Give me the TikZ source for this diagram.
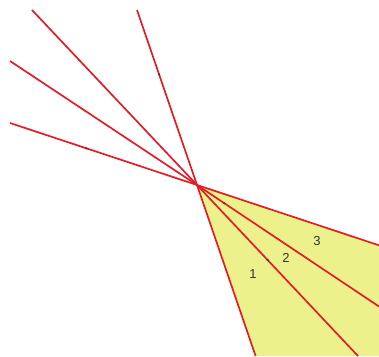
\documentclass[tikz,border=0pt]{standalone}
\usetikzlibrary{decorations.markings,arrows.meta}
\usepackage{fontspec}
\setmainfont{Liberation Sans}
\definecolor{fillyel}{RGB}{236,241,140}
\definecolor{raycol}{RGB}{225,30,40}
\tikzset{
  ray/.style={draw=raycol,line width=1.7pt},
  markat/.style={postaction={decorate},decoration={markings,mark=at position #1 with {\arrow[black!75]{Latex[length=3pt,width=2.5pt]}}}},
  lbl/.style={font=\fontsize{13pt}{14pt}\selectfont,text=black!80,inner sep=0pt}
}
\begin{document}
\begin{tikzpicture}[x=1pt,y=-1pt]
\useasboundingbox (0,0) rectangle (379,356);
\coordinate (F) at (197,185);
\coordinate (A1) at (137,10);
\coordinate (B1) at (255.6,356);
\coordinate (A2) at (32,10);
\coordinate (B2) at (358,356);
\coordinate (A3) at (10,61);
\coordinate (B3) at (379,306.5);
\coordinate (A4) at (10,123);
\coordinate (B4) at (379,245.3);
\fill[fillyel] (F) -- (B4) -- (379,356) -- (B1) -- cycle;
\draw[ray,markat=0.38] (A1) -- (F);
\draw[ray] (F) -- (B1);
\draw[ray] (A2) -- (F);
\draw[ray,markat=0.45] (F) -- (B2);
\draw[ray] (A3) -- (F);
\draw[ray,markat=0.16] (F) -- (B3);
\draw[ray,markat=0.42] (A4) -- (F);
\draw[ray] (F) -- (B4);
\node[lbl] (l1) at (253,274) {1};
\node[lbl] (l2) at (286,258) {2};
\node[lbl] (l3) at (317,241) {3};
\end{tikzpicture}
\end{document}
